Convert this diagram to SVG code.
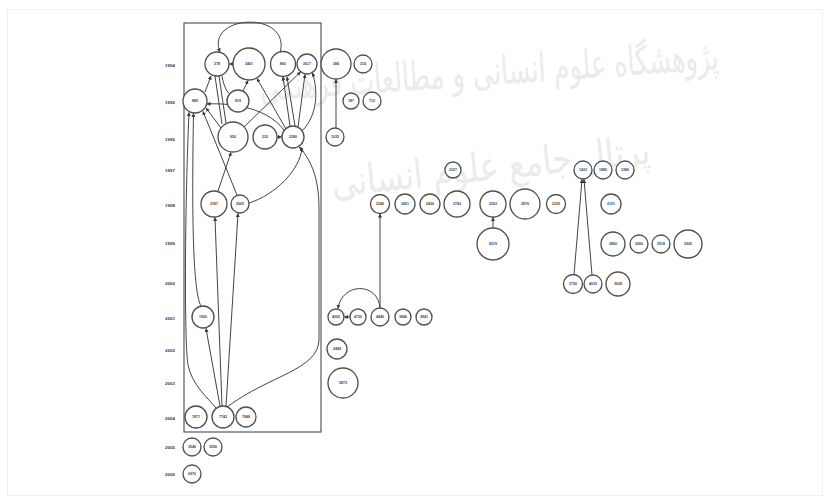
<svg xmlns="http://www.w3.org/2000/svg" width="830" height="503" viewBox="0 0 830 503">
<defs>
<marker id="ah" viewBox="0 0 10 10" refX="9" refY="5" markerWidth="4" markerHeight="4" orient="auto"><path d="M0,0 L10,5 L0,10 z" fill="#3a3a3a"/></marker>
<style>
.n circle{fill:#fff;stroke:#505050;stroke-width:1.35}
.n text{font-family:"Liberation Sans",Arial,sans-serif;font-size:3.6px;font-weight:bold;fill:#444;text-anchor:middle;dominant-baseline:central}
.yr{font-family:"Liberation Sans",Arial,sans-serif;font-size:4.4px;font-weight:bold;fill:#333;text-anchor:middle;dominant-baseline:central}
#edges path{fill:none;stroke:#444;stroke-width:1}
.wm{font-family:"DejaVu Sans","Noto Sans",sans-serif;fill:#ebebeb;text-anchor:middle}
</style>
</defs>
<rect width="830" height="503" fill="#fff"/>
<rect x="7.5" y="9.5" width="815" height="486" fill="none" stroke="#efefef"/>
<g id="watermark">
<text class="wm" x="490" y="85" font-size="40" textLength="460" lengthAdjust="spacingAndGlyphs" transform="rotate(-4 490 85)">پژوهشگاه علوم انسانی و مطالعات فرهنگی</text>
<text class="wm" x="492" y="180" font-size="40" textLength="320" lengthAdjust="spacingAndGlyphs" transform="rotate(-6 492 180)">پرتال جامع علوم انسانی</text>
</g>
<g id="years">
<text class="yr" x="170" y="65">1994</text>
<text class="yr" x="170" y="102">1995</text>
<text class="yr" x="170" y="139">1996</text>
<text class="yr" x="170" y="170">1997</text>
<text class="yr" x="170" y="205">1998</text>
<text class="yr" x="170" y="243">1999</text>
<text class="yr" x="170" y="283">2000</text>
<text class="yr" x="170" y="318">2001</text>
<text class="yr" x="170" y="350">2002</text>
<text class="yr" x="170" y="383">2003</text>
<text class="yr" x="170" y="418">2004</text>
<text class="yr" x="170" y="447">2005</text>
<text class="yr" x="170" y="474">2006</text>
</g>
<rect id="cluster" x="184" y="23" width="137" height="409" fill="none" stroke="#4a4a4a" stroke-width="1.1"/>
<g id="edges">
<path d="M280 53 C292 10,205 14,220 52" marker-end="url(#ah)"/>
<path d="M233 64 L229.5 64" marker-end="url(#ah)"/>
<path d="M205 92 L211 76" marker-end="url(#ah)"/>
<path d="M222 76 C224 88,228 93,230 94"/>
<path d="M219 76 L226 123"/>
<path d="M215 76 L222 124"/>
<path d="M243 91 L248 80.5" marker-end="url(#ah)"/>
<path d="M290 126 L283 77" marker-end="url(#ah)"/>
<path d="M295 126 L287 77" marker-end="url(#ah)"/>
<path d="M298 127 L305 74.5" marker-end="url(#ah)"/>
<path d="M286 129 L257 78.5" marker-end="url(#ah)"/>
<path d="M244 127 L300.5 72" marker-end="url(#ah)"/>
<path d="M277 137 L281.5 137" marker-end="url(#ah)"/>
<path d="M284 130 C265 105,225 103,207 104" marker-end="url(#ah)"/>
<path d="M221 128 L206 108" marker-end="url(#ah)"/>
<path d="M302 131 C318 115,318 90,312.5 73" marker-end="url(#ah)"/>
<path d="M218 191 L231 152.5" marker-end="url(#ah)"/>
<path d="M237 195 L203 111.5" marker-end="url(#ah)"/>
<path d="M249 203 C275 195,300 170,302 148" marker-end="url(#ah)"/>
<path d="M201 306 C192 290,192 200,193.5 113.5" marker-end="url(#ah)"/>
<path d="M216 408 C208 398,192 385,188 365 C184 340,185 200,189 112.5" marker-end="url(#ah)"/>
<path d="M220 406 L206 328.5" marker-end="url(#ah)"/>
<path d="M222 406 L215 217.5" marker-end="url(#ah)"/>
<path d="M226 406 L238 213.5" marker-end="url(#ah)"/>
<path d="M227 407 C270 375,318 370,319 340 L319 210 C319 185,315 165,299.5 147" marker-end="url(#ah)"/>
<path d="M336 128 L336 79.5" marker-end="url(#ah)"/>
<path d="M380 308 L380 214" marker-end="url(#ah)"/>
<path d="M380 308 C378 282,342 282,338 308.5" marker-end="url(#ah)"/>
<path d="M350 317 L344.5 317" marker-end="url(#ah)"/>
<path d="M493 228 L493 217.5" marker-end="url(#ah)"/>
<path d="M574 275 L582 179.5" marker-end="url(#ah)"/>
<path d="M592 275 L584 179.5" marker-end="url(#ah)"/>
</g>
<g id="n278" class="n"><circle cx="217" cy="64" r="12"/><text x="217" y="64">278</text></g>
<g id="n2461" class="n"><circle cx="249" cy="64" r="16"/><text x="249" y="64">2461</text></g>
<g id="n860" class="n"><circle cx="283" cy="64" r="12.5"/><text x="283" y="64">860</text></g>
<g id="n2617" class="n"><circle cx="307" cy="64" r="10"/><text x="307" y="64">2617</text></g>
<g id="n284" class="n"><circle cx="336" cy="64" r="15"/><text x="336" y="64">284</text></g>
<g id="n214" class="n"><circle cx="363" cy="64" r="9"/><text x="363" y="64">214</text></g>
<g id="n889" class="n"><circle cx="195" cy="101" r="12"/><text x="195" y="101">889</text></g>
<g id="n819" class="n"><circle cx="238" cy="101" r="11"/><text x="238" y="101">819</text></g>
<g id="n187" class="n"><circle cx="351" cy="101" r="8"/><text x="351" y="101">187</text></g>
<g id="n712" class="n"><circle cx="372" cy="101" r="9"/><text x="372" y="101">712</text></g>
<g id="n950" class="n"><circle cx="233" cy="137" r="15"/><text x="233" y="137">950</text></g>
<g id="n232" class="n"><circle cx="265" cy="137" r="12"/><text x="265" y="137">232</text></g>
<g id="n2380" class="n"><circle cx="293" cy="137" r="11"/><text x="293" y="137">2380</text></g>
<g id="n1035" class="n"><circle cx="335" cy="137" r="9"/><text x="335" y="137">1035</text></g>
<g id="n2327" class="n"><circle cx="453" cy="170" r="8"/><text x="453" y="170">2327</text></g>
<g id="n1423" class="n"><circle cx="583" cy="170" r="9"/><text x="583" y="170">1423</text></g>
<g id="n1885" class="n"><circle cx="603" cy="170" r="9"/><text x="603" y="170">1885</text></g>
<g id="n2386" class="n"><circle cx="625" cy="170" r="9"/><text x="625" y="170">2386</text></g>
<g id="n2397" class="n"><circle cx="214" cy="204" r="13"/><text x="214" y="204">2397</text></g>
<g id="n2005" class="n"><circle cx="240" cy="204" r="9"/><text x="240" y="204">2005</text></g>
<g id="n2246" class="n"><circle cx="380" cy="204" r="9.5"/><text x="380" y="204">2246</text></g>
<g id="n2451" class="n"><circle cx="405" cy="204" r="10"/><text x="405" y="204">2451</text></g>
<g id="n2430" class="n"><circle cx="430" cy="204" r="10"/><text x="430" y="204">2430</text></g>
<g id="n2743" class="n"><circle cx="457" cy="204" r="13"/><text x="457" y="204">2743</text></g>
<g id="n2263" class="n"><circle cx="493" cy="204" r="13"/><text x="493" y="204">2263</text></g>
<g id="n2876" class="n"><circle cx="525" cy="204" r="15"/><text x="525" y="204">2876</text></g>
<g id="n2229" class="n"><circle cx="556" cy="204" r="9.5"/><text x="556" y="204">2229</text></g>
<g id="n2101" class="n"><circle cx="611" cy="204" r="10"/><text x="611" y="204">2101</text></g>
<g id="n8219" class="n"><circle cx="493" cy="244" r="16"/><text x="493" y="244">8219</text></g>
<g id="n2860" class="n"><circle cx="613" cy="244" r="12"/><text x="613" y="244">2860</text></g>
<g id="n2060" class="n"><circle cx="639" cy="244" r="9"/><text x="639" y="244">2060</text></g>
<g id="n2918" class="n"><circle cx="661" cy="244" r="9"/><text x="661" y="244">2918</text></g>
<g id="n2905" class="n"><circle cx="688" cy="244" r="14"/><text x="688" y="244">2905</text></g>
<g id="n2756" class="n"><circle cx="573" cy="284" r="9.5"/><text x="573" y="284">2756</text></g>
<g id="n4032" class="n"><circle cx="593" cy="284" r="9"/><text x="593" y="284">4032</text></g>
<g id="n3628" class="n"><circle cx="618" cy="284" r="12"/><text x="618" y="284">3628</text></g>
<g id="n1950" class="n"><circle cx="203" cy="317" r="11"/><text x="203" y="317">1950</text></g>
<g id="n4005" class="n"><circle cx="336" cy="317" r="8"/><text x="336" y="317">4005</text></g>
<g id="n4720" class="n"><circle cx="358" cy="317" r="8"/><text x="358" y="317">4720</text></g>
<g id="n4840" class="n"><circle cx="380" cy="317" r="9"/><text x="380" y="317">4840</text></g>
<g id="n3846" class="n"><circle cx="403" cy="317" r="8"/><text x="403" y="317">3846</text></g>
<g id="n2841" class="n"><circle cx="424" cy="317" r="8"/><text x="424" y="317">2841</text></g>
<g id="n2484" class="n"><circle cx="337" cy="349" r="10"/><text x="337" y="349">2484</text></g>
<g id="n5873" class="n"><circle cx="343" cy="383" r="15"/><text x="343" y="383">5873</text></g>
<g id="n7871" class="n"><circle cx="196" cy="417" r="11"/><text x="196" y="417">7871</text></g>
<g id="n7743" class="n"><circle cx="223" cy="417" r="11"/><text x="223" y="417">7743</text></g>
<g id="n7848" class="n"><circle cx="246" cy="417" r="10"/><text x="246" y="417">7848</text></g>
<g id="n3546" class="n"><circle cx="192" cy="447" r="9"/><text x="192" y="447">3546</text></g>
<g id="n3590" class="n"><circle cx="213" cy="447" r="9"/><text x="213" y="447">3590</text></g>
<g id="n6970" class="n"><circle cx="192" cy="474" r="9"/><text x="192" y="474">6970</text></g>
</svg>
